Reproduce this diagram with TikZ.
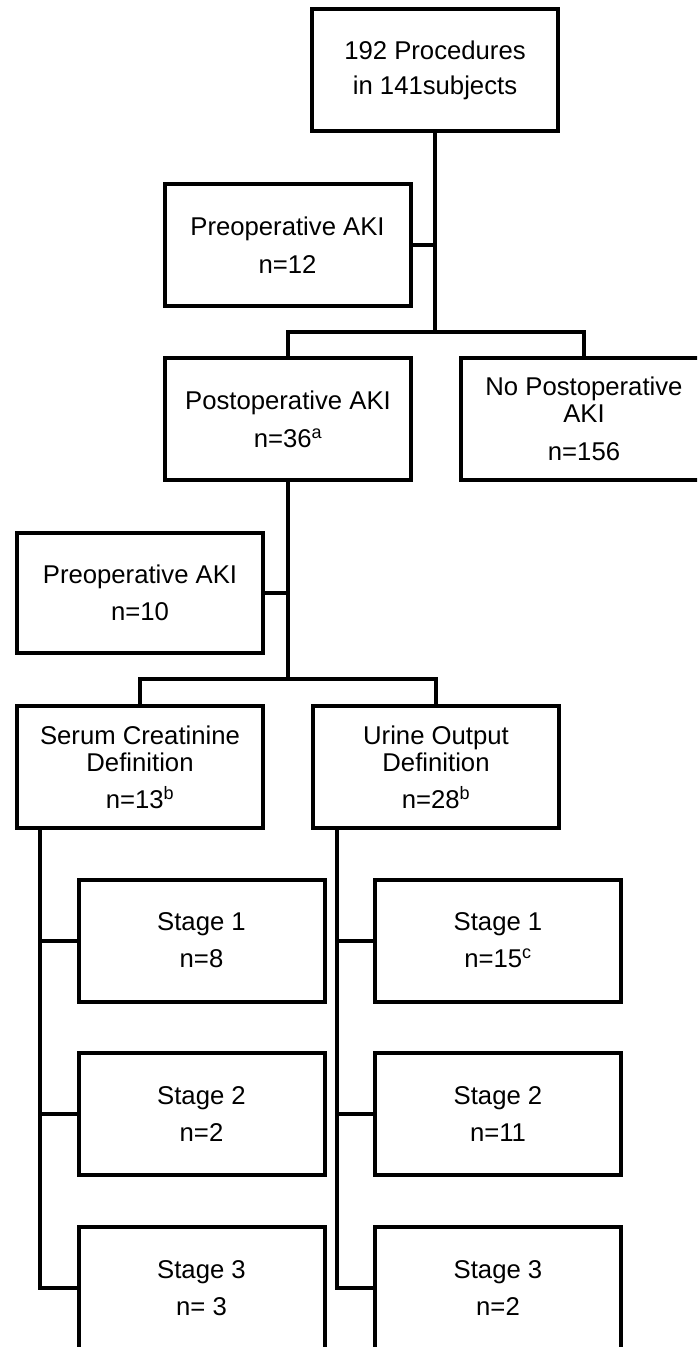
\documentclass[tikz,border=0pt]{standalone}
\usepackage{fontspec}
\setmainfont{Liberation Sans}
\begin{document}
\begin{tikzpicture}[x=1pt,y=-1pt,
  box/.style={draw, line width=4pt, minimum width=246pt, minimum height=122pt, inner sep=0pt, align=center, font=\fontsize{25.7}{27}\selectfont},
  conn/.style={line width=4pt}]
\clip (0,0) rectangle (697,1347);
\node[box] (top) at (435,70) {192 Procedures\\[8pt]in 141subjects};
\node[box] (pre1) at (287.5,245) {Preoperative AKI\\[11pt]n=12};
\node[box] (post) at (288,419) {Postoperative AKI\\[11pt]n=36\textsuperscript{a}};
\node[box] (nopost) at (584,419) {No Postoperative\\AKI\\[11pt]n=156};
\node[box, minimum height=120pt] (pre2) at (140,593) {Preoperative AKI\\[10pt]n=10};
\node[box] (serum) at (140,767) {Serum Creatinine\\Definition\\[10pt]n=13\textsuperscript{b}};
\node[box] (urine) at (436,767) {Urine Output\\Definition\\[10pt]n=28\textsuperscript{b}};
\node[box] (s1) at (201.5,940.5) {Stage 1\\[10pt]n=8};
\node[box] (s2) at (201.5,1114) {Stage 2\\[10pt]n=2};
\node[box] (s3) at (201.5,1288) {Stage 3\\[10pt]n= 3};
\node[box] (u1) at (498,940.5) {Stage 1\\[10pt]n=15\textsuperscript{c}};
\node[box] (u2) at (498,1114) {Stage 2\\[10pt]n=11};
\node[box] (u3) at (498,1288) {Stage 3\\[10pt]n=2};
\coordinate (b1) at (435,332);
\coordinate (b2) at (288,679);
\draw[conn] (top.south) -- (b1);
\draw[conn] (pre1.east) -- (pre1.east -| top.south);
\draw[conn] (post.north) -- (post.north |- b1) -- (nopost.north |- b1) -- (nopost.north);
\draw[conn] (post.south) -- (b2);
\draw[conn] (pre2.east) -- (pre2.east -| post.south);
\draw[conn] (serum.north) -- (serum.north |- b2) -- (urine.north |- b2) -- (urine.north);
\path (serum.south west) ++(25,0) coordinate (sl);
\path (urine.south west) ++(26,0) coordinate (ul);
\draw[conn] (sl) |- (s3.west);
\draw[conn] (s1.west) -- (s1.west -| sl);
\draw[conn] (s2.west) -- (s2.west -| sl);
\draw[conn] (ul) |- (u3.west);
\draw[conn] (u1.west) -- (u1.west -| ul);
\draw[conn] (u2.west) -- (u2.west -| ul);
\end{tikzpicture}
\end{document}
